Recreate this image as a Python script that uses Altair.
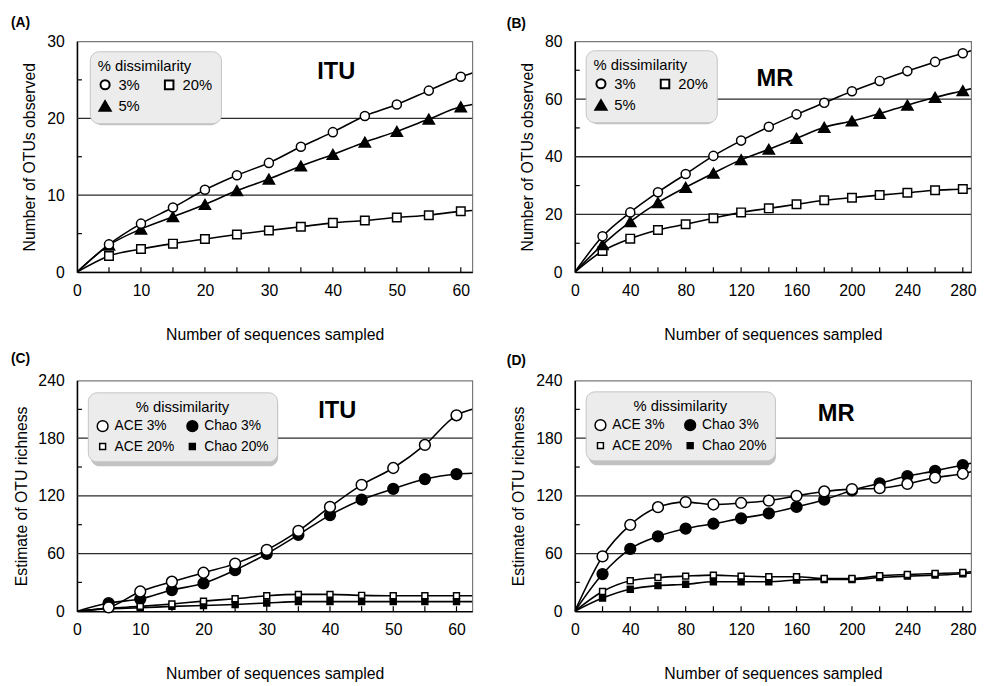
import altair as alt
import pandas as pd

FONT = "Liberation Sans"

# ---------------- data ----------------
# (A) ITU - number of OTUs observed
a_x = [5, 10, 15, 20, 25, 30, 35, 40, 45, 50, 55, 60]
a_3 = [3.6, 6.3, 8.4, 10.7, 12.6, 14.2, 16.3, 18.2, 20.3, 21.8, 23.6, 25.4]
a_5 = [3.5, 5.6, 7.2, 8.8, 10.6, 12.1, 13.8, 15.3, 16.9, 18.3, 19.9, 21.5]
a_20 = [2.1, 3.0, 3.7, 4.3, 4.9, 5.4, 5.9, 6.4, 6.7, 7.1, 7.4, 7.9]
a_end = [25.9, 21.8, 8.0]          # where each curve leaves the frame (3%, 5%, 20%)

# (B) MR - number of OTUs observed
b_x = [20, 40, 60, 80, 100, 120, 140, 160, 180, 200, 220, 240, 260, 280]
b_3 = [12.4, 20.7, 27.7, 34.0, 40.3, 45.6, 50.4, 54.7, 58.7, 62.7, 66.3, 69.7, 72.9, 75.9]
b_5 = [9.5, 17.5, 24.1, 29.4, 34.3, 39.0, 42.6, 46.4, 50.2, 52.4, 55.0, 57.9, 60.6, 62.9]
b_20 = [7.3, 11.6, 14.6, 16.6, 18.7, 20.7, 22.1, 23.5, 24.9, 25.8, 26.7, 27.5, 28.4, 28.8]
b_end = [76.8, 63.6, 29.0]

# (C) ITU - estimate of OTU richness
c_x = [5, 10, 15, 20, 25, 30, 35, 40, 45, 50, 55, 60]
c_ace3 = [4, 20.5, 30.7, 40, 49.5, 63.8, 83.6, 108.5, 131.4, 149, 173, 203.8]
c_ace20 = [3, 5, 7.5, 10.5, 13, 16, 17.5, 17.5, 16.5, 16, 16, 16]
c_chao3 = [8.5, 12.6, 22, 29, 42.7, 59.7, 79.5, 100, 116, 127.3, 137.5, 142.7]
c_chao20 = [2.5, 3.5, 5, 6, 7, 8.5, 10, 10, 10, 10, 10, 10]
c_end = [210, 16, 143.5, 10]

# (D) MR - estimate of OTU richness
d_x = [20, 40, 60, 80, 100, 120, 140, 160, 180, 200, 220, 240, 260, 280]
d_ace3 = [57, 89.8, 108.2, 113.5, 111, 112.6, 115, 120, 124.6, 127, 128, 132.4, 139, 143]
d_ace20 = [20.5, 31.7, 35, 36.5, 37.5, 36.5, 35.8, 35.8, 34, 34, 36.9, 38.2, 39.2, 40.3]
d_chao3 = [38.6, 64.8, 77.8, 86, 91, 96.6, 101.7, 108.5, 116, 125.6, 133, 140.6, 146, 152]
d_chao20 = [13.7, 22.9, 26.6, 28, 30.7, 30.7, 30.7, 32.4, 33, 33, 35, 36.5, 37.5, 39]
d_end = [145, 41, 154, 39.8]

# legend order (column-major in a 2-column legend)
obs_series = ["3%", "5%", "20%"]
est_series = ["ACE 3%", "ACE 20%", "Chao 3%", "Chao 20%"]

x_small_labels = [0, 10, 20, 30, 40, 50, 60]
x_small_minor = [5, 10, 15, 20, 25, 30, 35, 40, 45, 50, 55, 60]
x_big_labels = [0, 40, 80, 120, 160, 200, 240, 280]
x_big_minor = [20, 40, 60, 80, 100, 120, 140, 160, 180, 200, 220, 240, 260, 280]

W1, W2, H = 401, 402, 234


def make_frames(xs, series, values, end_x, ends, sizes):
    pts, line = [], []
    # reversed so that the first legend entry is drawn on top
    for name, vals, end, sz in reversed(list(zip(series, values, ends, sizes))):
        line.append({"s": name, "x": 0, "y": 0})
        for x, y in zip(xs, vals):
            pts.append({"s": name, "x": x, "y": y, "sz": sz})
            line.append({"s": name, "x": x, "y": y})
        line.append({"s": name, "x": end_x, "y": end})
    return pd.DataFrame(pts), pd.DataFrame(line)


def panel(label, label_xy, site, site_xy, xs, series, values, ends, x_max,
          x_labels, x_minor, y_max, y_labels, y_grid, y_minor, y_title,
          shapes, fills, sizes, leg, width):
    pts, line = make_frames(xs, series, values, x_max, ends, sizes)
    one = pd.DataFrame({"k": [0]})

    xenc = alt.X("x:Q", scale=alt.Scale(domain=[0, x_max], nice=False, zero=True),
                 axis=alt.Axis(values=x_labels, title="Number of sequences sampled",
                               grid=False, ticks=False, tickSize=0, labelFlush=False,
                               labelOverlap=False, labelPadding=11, labelFontSize=16,
                               titleFontSize=16, titleFontWeight="normal", titlePadding=28,
                               domainColor="black", domainWidth=1.5))
    yenc = alt.Y("y:Q", scale=alt.Scale(domain=[0, y_max], nice=False),
                 axis=alt.Axis(values=y_labels, title=y_title, grid=False, ticks=False,
                               tickSize=0, labelPadding=13, labelFontSize=16,
                               labelOverlap=False,
                               titleFontSize=16, titleFontWeight="normal", titlePadding=9,
                               domainColor="black", domainWidth=1.5))

    size_expr = " : ".join(
        f"datum.value == '{n}' ? {s}" for n, s in zip(series[:-1], sizes[:-1])
    ) + f" : {sizes[-1]}"

    legend = alt.Legend(orient="none", legendX=leg["x"], legendY=leg["y"],
                        title="% dissimilarity", columns=2, columnPadding=leg["colpad"],
                        rowPadding=leg["rowpad"], titleAnchor=leg["anchor"], titleFontSize=15,
                        titleFontWeight="normal", titlePadding=leg["tpad"],
                        labelFontSize=leg["lfs"], labelOffset=leg["loff"], padding=8,
                        fillColor="#ececec", strokeColor="#c4c4c4", cornerRadius=9,
                        symbolSize={"expr": size_expr},
                        symbolStrokeColor="black", symbolStrokeWidth=leg["sw"])

    grid = alt.Chart(pd.DataFrame({"y": y_grid})).mark_rule(
        color="#2b2b2b", strokeWidth=1.3).encode(y=yenc, x=alt.value(0), x2=alt.value(width))
    yt = alt.Chart(pd.DataFrame({"y": y_minor})).mark_rule(
        color="black", strokeWidth=1.2).encode(y=yenc, x=alt.value(0), x2=alt.value(5))
    xt = alt.Chart(pd.DataFrame({"x": x_minor})).mark_rule(
        color="black", strokeWidth=1.2).encode(x=xenc, y=alt.value(H), y2=alt.value(H - 5))

    shadow = alt.Chart(one).mark_rect(color="#8f8f8f", opacity=0.55, cornerRadius=9).encode(
        x=alt.value(leg["x"] + 3), x2=alt.value(leg["x"] + leg["w"] + 3),
        y=alt.value(leg["y"] + 4), y2=alt.value(leg["y"] + leg["h"] + 4))

    lines = alt.Chart(line).mark_line(interpolate="monotone", color="black",
                                      strokeWidth=1.6, clip=True).encode(
        x=xenc, y=yenc, detail="s:N")

    points = alt.Chart(pts).mark_point(filled=True, strokeWidth=1.5, opacity=1).encode(
        x=xenc, y=yenc,
        shape=alt.Shape("s:N", scale=alt.Scale(domain=series, range=shapes), legend=legend),
        fill=alt.Fill("s:N", scale=alt.Scale(domain=series, range=fills), legend=legend),
        stroke=alt.Stroke("s:N", scale=alt.Scale(domain=series,
                                                 range=["black"] * len(series)),
                          legend=legend),
        size=alt.Size("sz:Q", scale=None),
    )

    site_t = alt.Chart(one).mark_text(font=FONT, fontSize=24, fontWeight="bold",
                                      baseline="middle", align="center").encode(
        x=alt.value(site_xy[0]), y=alt.value(site_xy[1]), text=alt.value(site))
    label_t = alt.Chart(one).mark_text(font=FONT, fontSize=14, fontWeight="bold",
                                       baseline="middle", align="left").encode(
        x=alt.value(label_xy[0]), y=alt.value(label_xy[1]), text=alt.value(label))

    return alt.layer(grid, yt, xt, shadow, lines, points, site_t, label_t).properties(
        width=width, height=H)


obs_leg = {"w": 129, "h": 71, "colpad": 21, "rowpad": 3, "tpad": 3, "lfs": 15, "loff": 6,
           "anchor": "start", "sw": 2}
est_leg = {"w": 190, "h": 71, "colpad": 9, "rowpad": 5, "tpad": 4, "lfs": 14, "loff": 5,
           "anchor": "middle", "sw": 1.5}

pA = panel("(A)", (-67, -19), "ITU", (263, 31), a_x, obs_series, [a_3, a_5, a_20], a_end,
           61.8, x_small_labels, x_small_minor, 30, [0, 10, 20, 30], [10, 20], [5, 15, 25],
           "Number of OTUs observed", ["circle", "triangle-up", "square"],
           ["white", "black", "white"], [85, 130, 75],
           dict(obs_leg, x=13, y=10), W1)
pB = panel("(B)", (-69, -18), "MR", (203, 38), b_x, obs_series, [b_3, b_5, b_20], b_end,
           286, x_big_labels, x_big_minor, 80, [0, 20, 40, 60, 80], [20, 40, 60],
           [10, 30, 50, 70],
           "Number of OTUs observed", ["circle", "triangle-up", "square"],
           ["white", "black", "white"], [85, 130, 75],
           dict(obs_leg, x=11, y=9), W2)
pC = panel("(C)", (-67, -22), "ITU", (264, 31), c_x, est_series,
           [c_ace3, c_ace20, c_chao3, c_chao20], c_end,
           62.5, x_small_labels, x_small_minor, 240, [0, 60, 120, 180, 240], [60, 120, 180],
           [30, 90, 150, 210],
           "Estimate of OTU richness", ["circle", "square", "circle", "square"],
           ["white", "white", "black", "black"], [120, 36, 120, 36],
           dict(est_leg, x=11, y=12), W1)
pD = panel("(D)", (-69, -20), "MR", (265, 34), d_x, est_series,
           [d_ace3, d_ace20, d_chao3, d_chao20], d_end,
           286, x_big_labels, x_big_minor, 240, [0, 60, 120, 180, 240], [60, 120, 180],
           [30, 90, 150, 210],
           "Estimate of OTU richness", ["circle", "square", "circle", "square"],
           ["white", "white", "black", "black"], [120, 36, 120, 36],
           dict(est_leg, x=11, y=11), W2)

chart = alt.concat(pA, pB, pC, pD, columns=2, spacing={"row": 110, "column": 104},
                   bounds="flush").resolve_scale(
    x="independent", y="independent", shape="independent", fill="independent",
    stroke="independent"
).properties(
    padding={"left": 2, "top": 2, "right": 2, "bottom": 0}
).configure(font=FONT).configure_view(
    stroke="#7a7a7a", strokeWidth=1.2
).configure_axis(
    labelFont=FONT, titleFont=FONT, labelColor="black", titleColor="black"
).configure_legend(
    labelFont=FONT, titleFont=FONT, labelColor="black", titleColor="black"
)

chart.save("out.html", embed_options={"renderer": "svg", "actions": False})
